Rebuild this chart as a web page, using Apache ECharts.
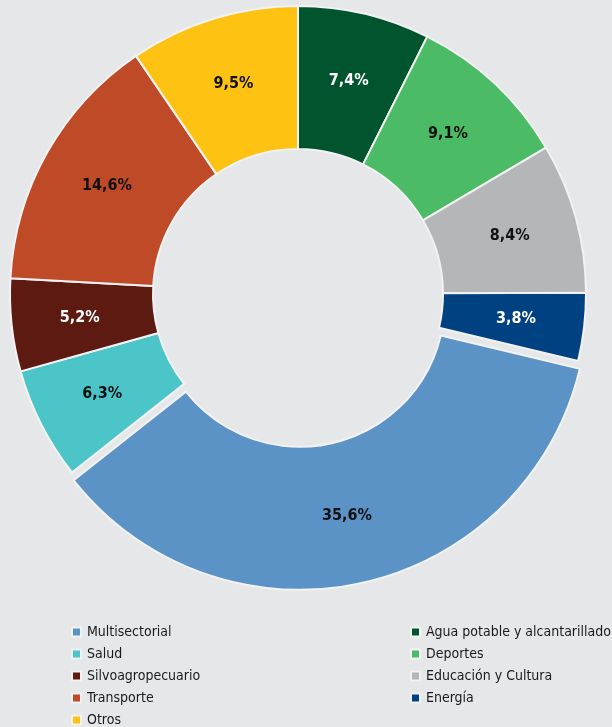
<!DOCTYPE html>
<html>
<head>
<meta charset="utf-8">
<script src="https://cdn.jsdelivr.net/npm/echarts@6/dist/echarts.min.js"></script>
<style>
  html, body { margin: 0; padding: 0; background: #e6e7e9; }
  #chart { width: 612px; height: 727px; }
</style>
</head>
<body>
<div id="chart"></div>
<script>
// sectores, en el orden del anillo (desde arriba, sentido horario)
const sectores = ['Agua potable y alcantarillado', 'Deportes', 'Educación y Cultura', 'Energía',
  'Multisectorial', 'Salud', 'Silvoagropecuario', 'Transporte', 'Otros']
const porcentajes = [7.4, 9.1, 8.4, 3.8, 35.6, 6.3, 5.2, 14.6, 9.5]
const colores = ['#00552e', '#4cbb65', '#b5b6b8', '#004281', '#5b93c6', '#4cc5c8', '#5c1a10', '#bf4a28', '#fdc212']
const colorEtiqueta = ['#ffffff', '#111111', '#111111', '#ffffff', '#111111', '#111111', '#ffffff', '#111111', '#111111']

const leyendaIzq = ['Multisectorial', 'Salud', 'Silvoagropecuario', 'Transporte', 'Otros']
const leyendaDer = ['Agua potable y alcantarillado', 'Deportes', 'Educación y Cultura', 'Energía']

const fuente = '"DejaVu Sans Condensed", "Liberation Sans Narrow", sans-serif'

const chart = echarts.init(document.getElementById('chart'))

const leyendaBase = {
  orient: 'vertical',
  top: 620,
  height: 120,
  itemWidth: 9,
  itemHeight: 9,
  itemGap: 8,
  itemSymbolKeepAspect: true,
  icon: 'rect',
  selectedMode: false,
  textStyle: { fontFamily: fuente, fontSize: 14, color: '#1a1a1a', padding: [0, 0, 0, 1] }
}

const option = {
  backgroundColor: '#e6e7e9',
  color: colores,
  legend: [
    Object.assign({}, leyendaBase, { left: 66, data: leyendaIzq }),
    Object.assign({}, leyendaBase, { left: 405, data: leyendaDer })
  ],
  series: [
    {
      type: 'pie',
      center: [298, 294],
      radius: [145, 288],
      startAngle: 90,
      clockwise: true,
      selectedMode: 'single',
      selectedOffset: 8,
      animation: false,
      itemStyle: { borderColor: '#f2f2f2', borderWidth: 2 },
      label: {
        position: 'inside',
        fontFamily: fuente,
        fontSize: 16,
        fontWeight: 'bold',
        formatter: p => String(p.value).replace('.', ',') + '%'
      },
      labelLine: { show: false },
      emphasis: { disabled: true },
      data: sectores.map((s, i) => ({
        name: s,
        value: porcentajes[i],
        selected: s === 'Multisectorial',
        label: { color: colorEtiqueta[i] }
      }))
    }
  ]
}

chart.setOption(option)
</script>
</body>
</html>
